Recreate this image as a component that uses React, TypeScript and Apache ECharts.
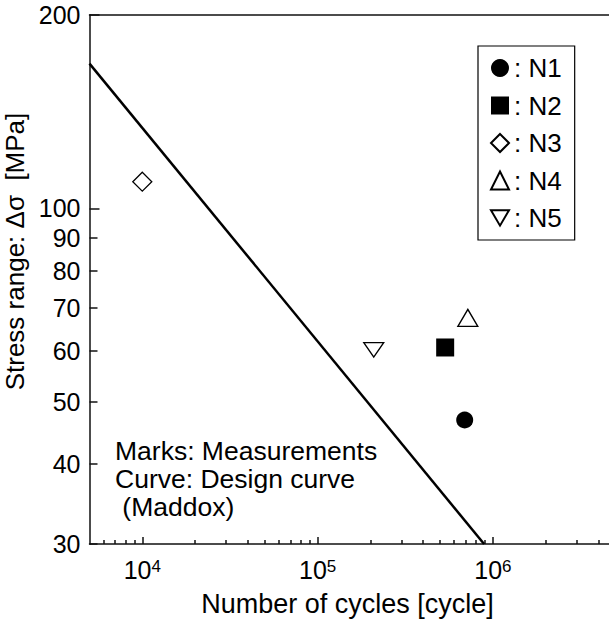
import React, { useEffect, useRef } from "react";
import * as echarts from "echarts";

// ---- data ----
const seriesNames = ["N1", "N2", "N3", "N4", "N5"];
const cyclesN = [690000, 534000, 10000, 719000, 209000];
const stressMPa = [46.8, 60.7, 110, 67.5, 60.2];
const designCurveCycles = [5000, 890000];
const designCurveStress = [168, 30];

const xRange = [5000, 5000000];
const yRange = [30, 200];
const xMajorTicks = [1e4, 1e5, 1e6];
const xMinorTicks = [
  6000, 7000, 8000, 9000,
  20000, 30000, 40000, 50000, 60000, 70000, 80000, 90000,
  200000, 300000, 400000, 500000, 600000, 700000, 800000, 900000,
  2000000, 3000000, 4000000,
];
const yTickLabels = [30, 40, 50, 60, 70, 80, 90, 100, 200];
const yMajorTicks = [100, 200];
const yMinorTicks = [30, 40, 50, 60, 70, 80, 90];

const FONT = '"Liberation Sans", Arial, Helvetica, sans-serif';
const lg = (v: number) => Math.log10(v);

const symbols: any[] = [
  { symbol: "circle", size: 17, filled: true },
  { symbol: "rect", size: 18, filled: true },
  { symbol: "diamond", size: [19, 19], filled: false },
  { symbol: "triangle", size: [20, 17], filled: false },
  { symbol: "path://M0,0L20,0L10,17Z", size: [20, 17], filled: false },
];

export default function App() {
  const ref = useRef<HTMLDivElement>(null);

  useEffect(() => {
    if (!ref.current) return;
    const chart = echarts.init(ref.current, null, { renderer: "svg" });
    const axisLineStyle = { color: "#111", width: 1.5 };

    const scatterSeries = seriesNames.map((name, i) => ({
      name,
      type: "scatter",
      xAxisIndex: 0,
      yAxisIndex: 0,
      symbol: symbols[i].symbol,
      symbolSize: symbols[i].size,
      symbolKeepAspect: true,
      itemStyle: symbols[i].filled
        ? { color: "#000", borderColor: "#000", borderWidth: 0, opacity: 1 }
        : { color: "#fff", borderColor: "#000", borderWidth: 1.3, opacity: 1 },
      data: [[lg(cyclesN[i]), lg(stressMPa[i])]],
      z: 3,
    }));

    const option: any = {
      animation: false,
      backgroundColor: "#fff",
      textStyle: { fontFamily: FONT, color: "#000" },
      grid: {
        show: false,
        left: 89.5,
        top: 15,
        width: 526,
        height: 529,
        outerBoundsMode: "none",
        containLabel: false,
      },
      legend: {
        orient: "vertical",
        left: 478,
        top: 46,
        data: seriesNames,
        selectedMode: false,
        itemWidth: 18,
        itemHeight: 18,
        itemGap: 11.5,
        formatter: ": {name}",
        textStyle: { fontSize: 26, color: "#000", lineHeight: 24, fontFamily: FONT },
        borderColor: "#000",
        borderWidth: 1.2,
        padding: [9, 13, 9, 12],
        backgroundColor: "#fff",
      },
      xAxis: [
        {
          type: "value",
          position: "bottom",
          min: lg(xRange[0]),
          max: lg(xRange[1]),
          axisLine: { show: true, onZero: false, lineStyle: axisLineStyle },
          axisTick: {
            show: true,
            inside: true,
            length: 7,
            customValues: xMajorTicks.map(lg),
            lineStyle: axisLineStyle,
          },
          axisLabel: {
            customValues: xMajorTicks.map(lg),
            margin: 14,
            formatter: (v: number) => "{b|10}{s|" + Math.round(v) + "}",
            rich: {
              b: { fontSize: 25, fontFamily: FONT, color: "#000", lineHeight: 24 },
              s: { fontSize: 17, fontFamily: FONT, color: "#000", verticalAlign: "top", lineHeight: 10 },
            },
          },
          splitLine: { show: false },
          name: "Number of cycles [cycle]",
          nameLocation: "middle",
          nameGap: 46,
          nameTextStyle: { fontSize: 27, color: "#000", fontFamily: FONT, padding: [0, 10, 0, 0] },
        },
        {
          type: "value",
          position: "bottom",
          min: lg(xRange[0]),
          max: lg(xRange[1]),
          axisLine: { show: false, onZero: false },
          axisTick: {
            show: true,
            inside: true,
            length: 4,
            customValues: xMinorTicks.map(lg),
            lineStyle: axisLineStyle,
          },
          axisLabel: { show: false },
          splitLine: { show: false },
        },
        {
          type: "value",
          position: "top",
          min: lg(xRange[0]),
          max: lg(xRange[1]),
          axisLine: { show: true, onZero: false, lineStyle: axisLineStyle },
          axisTick: { show: false },
          axisLabel: { show: false },
          splitLine: { show: false },
        },
      ],
      yAxis: [
        {
          type: "value",
          position: "left",
          min: lg(yRange[0]),
          max: lg(yRange[1]),
          axisLine: { show: true, onZero: false, lineStyle: axisLineStyle },
          axisTick: {
            show: true,
            inside: true,
            length: 10,
            customValues: yMajorTicks.map(lg),
            lineStyle: axisLineStyle,
          },
          axisLabel: {
            customValues: yTickLabels.map(lg),
            margin: 9,
            fontSize: 25,
            color: "#000",
            fontFamily: FONT,
            formatter: (v: number) => String(Math.round(Math.pow(10, v))),
          },
          splitLine: { show: false },
          name: "Stress range: \u0394\u03c3  [MPa]",
          nameLocation: "middle",
          nameRotate: 90,
          nameGap: 47,
          nameTextStyle: { fontSize: 26, color: "#000", fontFamily: FONT, padding: [0, 0, 0, 56] },
        },
        {
          type: "value",
          position: "left",
          min: lg(yRange[0]),
          max: lg(yRange[1]),
          axisLine: { show: false, onZero: false },
          axisTick: {
            show: true,
            inside: true,
            length: 8,
            customValues: yMinorTicks.map(lg),
            lineStyle: axisLineStyle,
          },
          axisLabel: { show: false },
          splitLine: { show: false },
        },
      ],
      graphic: [
        {
          type: "text",
          left: 115,
          top: 437,
          style: {
            text: "Marks: Measurements\nCurve: Design curve\n (Maddox)",
            font: "26.5px " + FONT,
            lineHeight: 28,
            fill: "#000",
          },
        },
      ],
      series: [
        {
          name: "Design curve",
          type: "line",
          xAxisIndex: 0,
          yAxisIndex: 0,
          showSymbol: false,
          symbol: "none",
          lineStyle: { color: "#000", width: 2.5 },
          data: designCurveCycles.map((n, i) => [lg(n), lg(designCurveStress[i])]),
          z: 2,
        },
        ...scatterSeries,
      ],
    };

    chart.setOption(option);
    return () => chart.dispose();
  }, []);

  return (
    <div
      style={{
        position: "fixed",
        left: 0,
        top: 0,
        width: 609,
        height: 623,
        overflow: "hidden",
        background: "#fff",
      }}
    >
      <div ref={ref} style={{ width: 640, height: 623, background: "#fff" }} />
    </div>
  );
}
